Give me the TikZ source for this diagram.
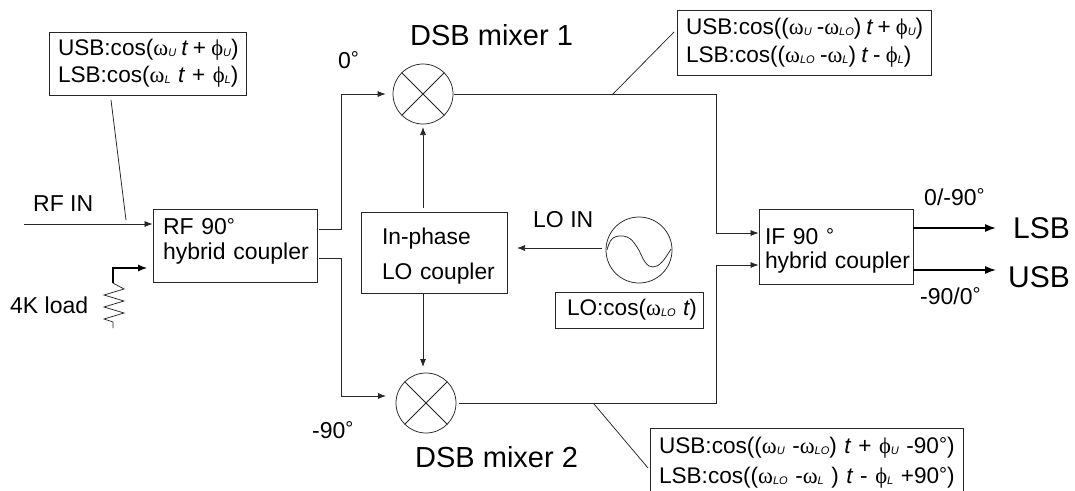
\documentclass[tikz,border=0pt]{standalone}
\usepackage{fontspec}
\setmainfont{Liberation Sans}
\newfontfamily\symf{Liberation Serif}
\usetikzlibrary{arrows.meta}
\newcommand{\sbs}[1]{\raisebox{-1pt}{\fontsize{11}{11}\selectfont\itshape #1}}
\newcommand{\om}[1]{{\symf ω}\sbs{#1}}
\newcommand{\ph}[1]{{\symf ϕ}\sbs{#1}}
\newcommand{\tm}{{\itshape t}}
\newcommand{\dg}{\raisebox{2.5pt}{\fontsize{20}{20}\selectfont °}}
\newcommand{\lin}[1]{\mbox{#1}}
\newcommand{\sps}[1]{\spaceskip=#1pt\relax}
\tikzset{
  line/.style={draw=black!85, line width=0.75pt},
  conn/.style={line, -{Latex[length=8pt,width=6pt]}},
  bold/.style={draw=black, line width=1.4pt, -{Latex[length=11pt,width=8pt]}},
  tbox/.style={draw=black!85, line width=0.8pt, rectangle, inner ysep=0pt, align=left, font=\fontsize{22.6}{27}\selectfont},
  mix/.style={draw=black!85, line width=0.75pt, circle, minimum size=60pt, inner sep=0pt},
  lab/.style={inner sep=0pt, anchor=base west, font=\fontsize{23}{27}\selectfont},
  biglab/.style={inner sep=0pt, anchor=base west, font=\fontsize{29}{30}\selectfont},
  hugelab/.style={inner sep=0pt, anchor=base west, font=\fontsize{30}{30}\selectfont}
}
\begin{document}
\begin{tikzpicture}[x=1pt,y=-1pt]
\useasboundingbox[fill=white] (0,0) rectangle (1075,490);
% text boxes
\node[tbox, inner xsep=9pt, text width=179pt, minimum height=63pt] (rfsig) at (147.5,63.5)
  {\lin{\sps{5.2}USB:cos(\om{U} \tm{} + \ph{U})}\\\lin{LSB:cos(\om{L} \tm{} + \ph{L})}};
\node[tbox, inner xsep=9pt, text width=236pt, minimum height=65pt, font=\fontsize{22.6}{28}\selectfont] (ifa) at (804,42.5)
  {\lin{\sps{5}USB:cos((\om{U} -\om{LO}) \tm{} + \ph{U})}\\\lin{\sps{5.3}LSB:cos((\om{LO} -\om{L}) \tm{} - \ph{L})}};
\node[tbox, inner xsep=9pt, text width=295pt, minimum height=70pt, font=\fontsize{22.6}{30}\selectfont] (ifb) at (806.5,463)
  {\lin{USB:cos((\om{U} -\om{LO}) \tm{} + \ph{U} -90\dg)}\\\lin{LSB:cos((\om{LO} -\om{L} ) \tm{} - \ph{L} +90\dg)}};
\node[tbox, inner xsep=12pt, text width=124pt, minimum height=36pt] (losig) at (629,310)
  {\lin{LO:cos(\om{LO} \tm{})}};
% blocks
\node[tbox, inner xsep=10pt, text width=144pt, minimum height=73pt, font=\fontsize{23}{25}\selectfont] (rf) at (235,245.5)
  {\lin{RF 90\dg}\\\lin{hybrid coupler\rule[-13pt]{0pt}{1pt}}};
\node[tbox, inner xsep=21pt, text width=104pt, minimum height=81pt, font=\fontsize{22.8}{35}\selectfont] (lo) at (434,252.5)
  {\lin{\rule{0pt}{23pt}In-phase}\\\lin{LO coupler}};
\node[tbox, inner xsep=6pt, text width=142pt, minimum height=75pt, font=\fontsize{22.9}{24}\selectfont] (if) at (836,246.5)
  {\lin{\rule{0pt}{25pt}IF 90 \dg}\\\lin{hybrid coupler}};
% mixers and source
\node[mix] (m1) at (423,94) {};
\node[mix] (m2) at (426,403) {};
\draw[line] (m1.45) -- (m1.225) (m1.135) -- (m1.315);
\draw[line] (m2.45) -- (m2.225) (m2.135) -- (m2.315);
\node[mix, minimum size=66pt] (osc) at (639,250) {};
\draw[line] plot[smooth, tension=0.7] coordinates {(607,250) (613,238) (627,237) (637,247) (645,262) (653,267) (662,262) (671,249)};
% labels
\node[biglab] (t1) at (410,45) {DSB mixer 1};
\node[biglab] (t2) at (415,467) {DSB mixer 2};
\node[lab] (t3) at (33,211) {RF IN};
\node[lab] (t4) at (10,313) {4K load};
\node[lab] (t5) at (338,68) {0\dg};
\node[lab] (t6) at (312,438) {-90\dg};
\node[lab] (t7) at (533,227) {LO IN};
\node[lab] (t8) at (924,205) {0/-90\dg};
\node[lab] (t9) at (920,304) {-90/0\dg};
\node[hugelab] (t10) at (1013,238) {LSB};
\node[hugelab] (t11) at (1008,287) {USB};
% ports
\coordinate (rfin) at (24,224);
\coordinate (rfo1) at (319,229);
\coordinate (rfo2) at (319,258);
\coordinate (rfi1) at (rf.west |- rfin);
\coordinate (lop1) at (423,208);
\coordinate (lop2) at (423,294);
\coordinate (ifi1) at (if.west |- 0,233);
\coordinate (ifi2) at (if.west |- 0,265);
\coordinate (ifo1) at (if.east |- 0,228);
\coordinate (ifo2) at (if.east |- 0,270);
\coordinate (lsb) at (996,228);
\coordinate (usb) at (996,270);
\coordinate (loadtop) at (113,283);
\coordinate (rfi2) at (147,268);
\coordinate (ld1) at (111,100);
\coordinate (ld2) at (126,220);
\coordinate (ld3) at (612,95);
\coordinate (ld4) at (674,32);
\coordinate (ld5) at (594,404);
\coordinate (ld6) at (648,468);
% connectors
\draw[conn] (rfin) -- (rfi1);
\draw[conn] (rfo1) -- (341,229) -- (341,94) -- ([xshift=-7pt]m1.west);
\draw[conn] (rfo2) -- (341,258) -- (341,396) -- (386,396);
\draw[conn] (lop1) -- (423,127);
\draw[conn] (lop2) -- (423,367);
\draw[conn] (osc.west |- 0,248) ++(-4,0) -- (517,248);
\draw[line] ([xshift=1pt]m1.east) -- (716,94) -- (716,233);
\draw[conn] (716,233) -- (ifi1);
\draw[line] ([xshift=3pt]m2.east) -- (716,403) -- (716,265);
\draw[conn] (716,265) -- (ifi2);
\draw[bold] (ifo1) -- (lsb);
\draw[bold] (ifo2) -- (usb);
\draw[line] (ld1) -- (ld2);
\draw[line] (ld3) -- (ld4);
\draw[line] (ld5) -- (ld6);
% load
\draw[line] (113,328) -- (113,322) -- (104,319) -- (124,313) -- (104,307) -- (124,301) -- (104,295) -- (124,289) -- (loadtop);
\draw[bold, line width=1.1pt, -{Latex[length=9pt,width=7pt]}] (loadtop) -- (113,268) -- (rfi2);
\end{tikzpicture}
\end{document}
